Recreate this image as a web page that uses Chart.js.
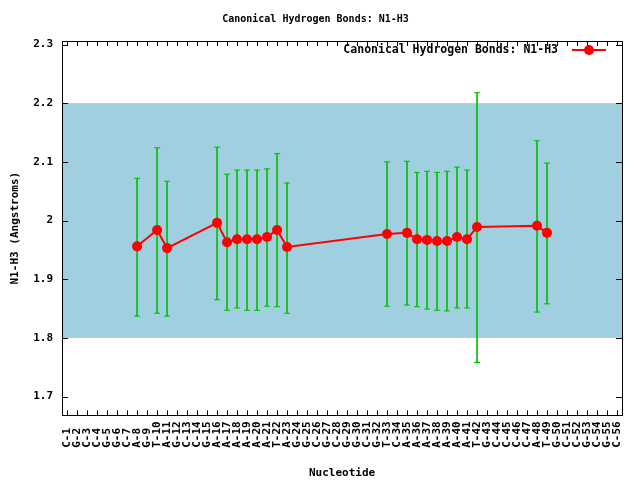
<!DOCTYPE html>
<html>
<head>
<meta charset="utf-8">
<script src="https://cdn.jsdelivr.net/npm/chart.js@4.4.1/dist/chart.umd.min.js"></script>
<style>
  html, body { margin: 0; padding: 0; background: #fff; }
</style>
</head>
<body>
<canvas id="chart" width="640" height="480"></canvas>
<script>
// x categories
const nucleotides = [
  'C-1', 'G-2', 'C-3', 'C-4', 'G-5', 'G-6', 'C-7', 'A-8', 'G-9', 'T-10',
  'A-11', 'G-12', 'C-13', 'C-14', 'G-15', 'A-16', 'A-17', 'A-18', 'A-19', 'A-20',
  'A-21', 'T-22', 'A-23', 'G-24', 'G-25', 'C-26', 'G-27', 'C-28', 'G-29', 'G-30',
  'C-31', 'G-32', 'T-33', 'C-34', 'A-35', 'A-36', 'A-37', 'A-38', 'A-39', 'A-40',
  'A-41', 'T-42', 'G-43', 'C-44', 'C-45', 'C-46', 'C-47', 'A-48', 'T-49', 'G-50',
  'C-51', 'C-52', 'G-53', 'C-54', 'G-55', 'C-56'
];

// mean N1-H3 distance, null where no pair
const meanDist = [
  null, null, null, null, null, null, null, 1.956, null, 1.984,
  1.953, null, null, null, null, 1.996, 1.963, 1.968, 1.968, 1.968,
  1.972, 1.984, 1.955, null, null, null, null, null, null, null,
  null, null, 1.977, null, 1.979, 1.968, 1.967, 1.965, 1.965, 1.972,
  1.968, 1.989, null, null, null, null, null, 1.991, 1.979, null,
  null, null, null, null, null, null
];

// error bar ends
const errLow = [
  null, null, null, null, null, null, null, 1.837, null, 1.842,
  1.837, null, null, null, null, 1.865, 1.847, 1.851, 1.847, 1.847,
  1.854, 1.853, 1.842, null, null, null, null, null, null, null,
  null, null, 1.854, null, 1.856, 1.853, 1.849, 1.847, 1.846, 1.851,
  1.851, 1.758, null, null, null, null, null, 1.844, 1.858, null,
  null, null, null, null, null, null
];
const errHigh = [
  null, null, null, null, null, null, null, 2.072, null, 2.124,
  2.067, null, null, null, null, 2.125, 2.079, 2.086, 2.086, 2.086,
  2.088, 2.114, 2.064, null, null, null, null, null, null, null,
  null, null, 2.100, null, 2.101, 2.082, 2.084, 2.082, 2.084, 2.091,
  2.086, 2.218, null, null, null, null, null, 2.136, 2.098, null,
  null, null, null, null, null, null
];

const yTicks = [1.7, 1.8, 1.9, 2.0, 2.1, 2.2, 2.3];
const yMin = 1.668;
const yMax = 2.306;
const bandLow = 1.8;
const bandHigh = 2.2;

const FONT = 'DejaVu Sans Mono';
const GREEN = '#00c000';
const RED = '#ff0000';

const errRanges = errLow.map((lo, i) => (lo == null ? null : [lo, errHigh[i]]));

// band behind data, box, inward ticks and the legend inside the plot
const gnuplotLook = {
  id: 'gnuplotLook',
  beforeDatasetsDraw(chart) {
    const { ctx, chartArea: a, scales: { y } } = chart;
    const top = y.getPixelForValue(bandHigh);
    const bot = y.getPixelForValue(bandLow);
    ctx.save();
    ctx.fillStyle = '#a0cfdf';
    ctx.fillRect(a.left, top, a.right - a.left, bot - top);
    ctx.restore();
  },
  afterDatasetsDraw(chart) {
    const { ctx, chartArea: a, scales: { x, y } } = chart;
    ctx.save();
    ctx.strokeStyle = '#000';
    ctx.lineWidth = 1;
    ctx.beginPath();
    for (let i = 0; i < x.ticks.length; i++) {
      const px = Math.round(x.getPixelForTick(i)) + 0.5;
      ctx.moveTo(px, a.bottom); ctx.lineTo(px, a.bottom - 5);
      ctx.moveTo(px, a.top); ctx.lineTo(px, a.top + 5);
    }
    for (let i = 0; i < y.ticks.length; i++) {
      const py = Math.round(y.getPixelForTick(i)) + 0.5;
      ctx.moveTo(a.left, py); ctx.lineTo(a.left + 6, py);
      ctx.moveTo(a.right, py); ctx.lineTo(a.right - 6, py);
    }
    ctx.stroke();
    ctx.strokeRect(Math.round(a.left) + 0.5, Math.round(a.top) + 0.5,
      Math.round(a.right - a.left), Math.round(a.bottom - a.top));

    // legend
    const label = chart.data.datasets[0].label;
    const ly = a.top + 9;
    ctx.font = 'bold 11.5px "' + FONT + '"';
    ctx.fillStyle = '#000';
    ctx.textAlign = 'right';
    ctx.textBaseline = 'middle';
    ctx.fillText(label, a.right - 64, ly);
    ctx.strokeStyle = RED;
    ctx.lineWidth = 2;
    ctx.beginPath();
    ctx.moveTo(a.right - 50, ly);
    ctx.lineTo(a.right - 16, ly);
    ctx.stroke();
    ctx.fillStyle = RED;
    ctx.beginPath();
    ctx.arc(a.right - 33, ly, 5, 0, Math.PI * 2);
    ctx.fill();
    ctx.restore();
  }
};

new Chart(document.getElementById('chart'), {
  type: 'line',
  data: {
    labels: nucleotides,
    datasets: [
      {
        label: 'Canonical Hydrogen Bonds: N1-H3',
        data: meanDist,
        borderColor: RED,
        backgroundColor: RED,
        borderWidth: 2,
        pointRadius: 5,
        pointBorderWidth: 0,
        spanGaps: true,
        tension: 0,
        order: 0
      },
      {
        label: 'top',
        data: errHigh,
        showLine: false,
        pointStyle: 'line',
        pointRadius: 3,
        borderColor: GREEN,
        pointBorderWidth: 1,
        order: 1
      },
      {
        label: 'bottom',
        data: errLow,
        showLine: false,
        pointStyle: 'line',
        pointRadius: 3,
        borderColor: GREEN,
        pointBorderWidth: 1,
        order: 1
      },
      {
        type: 'bar',
        label: 'spread',
        data: errRanges,
        backgroundColor: GREEN,
        borderWidth: 0,
        barThickness: 1,
        order: 2
      }
    ]
  },
  options: {
    responsive: false,
    animation: false,
    events: [],
    layout: { padding: { left: 9, right: 18, top: 0, bottom: 0 } },
    plugins: {
      legend: { display: false },
      tooltip: { enabled: false },
      title: {
        display: true,
        text: 'Canonical Hydrogen Bonds: N1-H3',
        color: '#000',
        font: { family: FONT, size: 10, weight: 'bold' },
        padding: { top: 13, bottom: 16 }
      }
    },
    scales: {
      x: {
        type: 'category',
        offset: true,
        grid: { display: false, drawTicks: false },
        border: { display: false },
        ticks: {
          autoSkip: false,
          minRotation: 90,
          maxRotation: 90,
          padding: 6,
          color: '#000',
          font: { family: FONT, size: 11, weight: 'bold' },
          callback: (v, i) => nucleotides[i].padEnd(4, ' ')
        },
        title: {
          display: true,
          text: 'Nucleotide',
          color: '#000',
          font: { family: FONT, size: 11, weight: 'bold' },
          padding: { top: 13, bottom: 0 }
        }
      },
      y: {
        min: yMin,
        max: yMax,
        grid: { display: false, drawTicks: false },
        border: { display: false },
        afterBuildTicks: (scale) => { scale.ticks = yTicks.map(v => ({ value: v })); },
        ticks: {
          padding: 9,
          color: '#000',
          font: { family: FONT, size: 11, weight: 'bold' },
          callback: (v) => String(+v.toFixed(1))
        },
        title: {
          display: true,
          text: 'N1-H3 (Angstroms)',
          color: '#000',
          font: { family: FONT, size: 11, weight: 'bold' },
          padding: { top: 0, bottom: 2 }
        }
      }
    }
  },
  plugins: [gnuplotLook]
});
</script>
</body>
</html>
